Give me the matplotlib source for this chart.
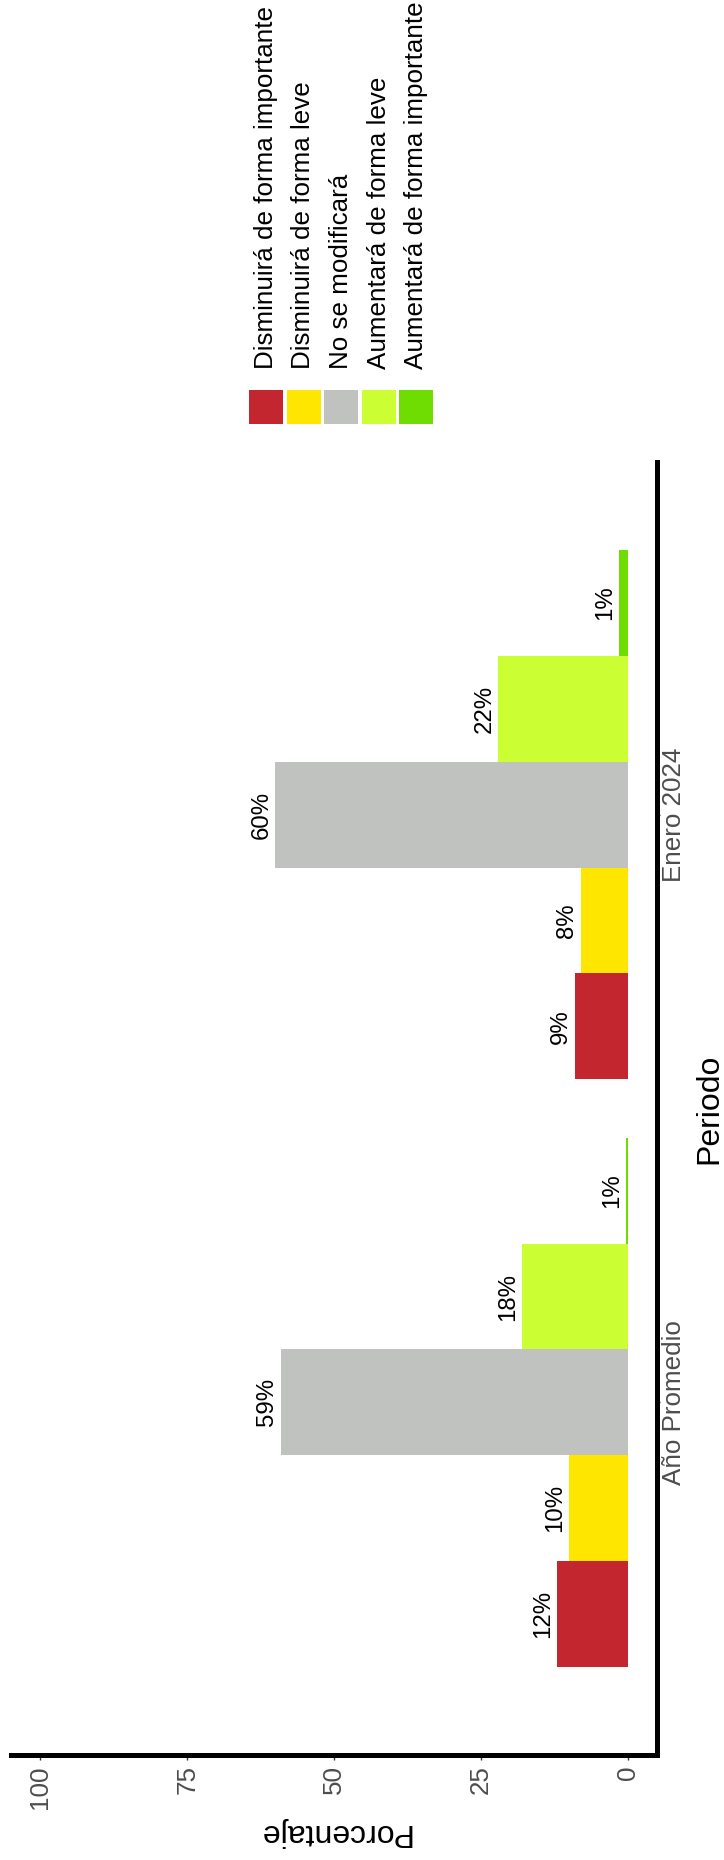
import matplotlib
matplotlib.use("Agg")
import matplotlib.pyplot as plt
from matplotlib.patches import Rectangle
import numpy as np

plt.rcParams['font.family'] = ['Liberation Sans', 'DejaVu Sans']

# ---------------- data ----------------
periods = ["Año Promedio", "Enero 2024"]
responses = ["Disminuirá de forma importante", "Disminuirá de forma leve",
             "No se modificará", "Aumentará de forma leve",
             "Aumentará de forma importante"]
colors = ["#C3262F", "#FEE600", "#BFC2BE", "#CCFF33", "#6FDD02"]
values_anio = [12, 10, 59, 18, 0.3]
values_enero = [9, 8, 60, 22, 1.5]
labels_anio = ["12%", "10%", "59%", "18%", "1%"]
labels_enero = ["9%", "8%", "60%", "22%", "1%"]
value_ticks = [0, 25, 50, 75, 100]
x_title = "Periodo"
y_title = "Porcentaje"

W, H = 724, 1860
fig = plt.figure(figsize=(W / 100, H / 100), dpi=100)

def fx(x):
    return x / W

def fy(y):
    return 1 - y / H

px = 0.72  # points per pixel at dpi 100

# panel in pixels: x 11..657, y 462..1755
ax = fig.add_axes([fx(11), fy(1755), fx(657) - fx(11), fy(462) - fy(1755)])

series_vals = [values_anio, values_enero]
series_labs = [labels_anio, labels_enero]
bw = 0.18
for g in range(len(periods)):
    for i in range(len(responses)):
        ypos = g + (i - 2) * bw
        v = series_vals[g][i]
        ax.barh(ypos, v, height=bw, color=colors[i], linewidth=0)
        ax.annotate(series_labs[g][i], (v, ypos), xytext=(-3 * px, 0),
                    textcoords="offset points", rotation=90,
                    ha="right", va="center", fontsize=24 * px, color="black")

ax.set_xlim(105, -5)
ax.set_ylim(-0.6, 1.6)

for s in ["top", "left"]:
    ax.spines[s].set_visible(False)
for s in ["bottom", "right"]:
    ax.spines[s].set_linewidth(5 * px)
    ax.spines[s].set_color("black")
    ax.spines[s].set_capstyle("projecting")

ax.set_xticks(value_ticks)
ax.set_xticklabels([str(t) for t in value_ticks], rotation=90)
ax.tick_params(axis="x", length=5 * px, width=1, color="#333333",
               labelsize=26 * px, labelcolor="#4D4D4D", pad=5 * px)

ax.yaxis.tick_right()
ax.set_yticks([0, 1])
ax.set_yticklabels(periods, rotation=90, va="center")
ax.tick_params(axis="y", length=3 * px, width=1, color="#333333",
               labelsize=26 * px, labelcolor="#4D4D4D", pad=2 * px)

ax.yaxis.set_label_position("right")
ax.set_ylabel(x_title, rotation=90, fontsize=32 * px, color="black", labelpad=8 * px)
ax.set_xlabel(y_title, rotation=180, fontsize=32 * px, color="black", labelpad=8 * px)

# legend drawn rotated (reads bottom-to-top)
for i, (lab, col) in enumerate(zip(responses, colors)):
    x0 = 249 + i * 37.5
    fig.add_artist(Rectangle((fx(x0), fy(424)), fx(34), 34 / H,
                             transform=fig.transFigure, facecolor=col,
                             edgecolor="none"))
    fig.text(fx(x0 + 17), fy(369), lab, rotation=90, ha="center", va="bottom",
             fontsize=26 * px, color="black")

fig.savefig("out.png", dpi=100, facecolor="white")
